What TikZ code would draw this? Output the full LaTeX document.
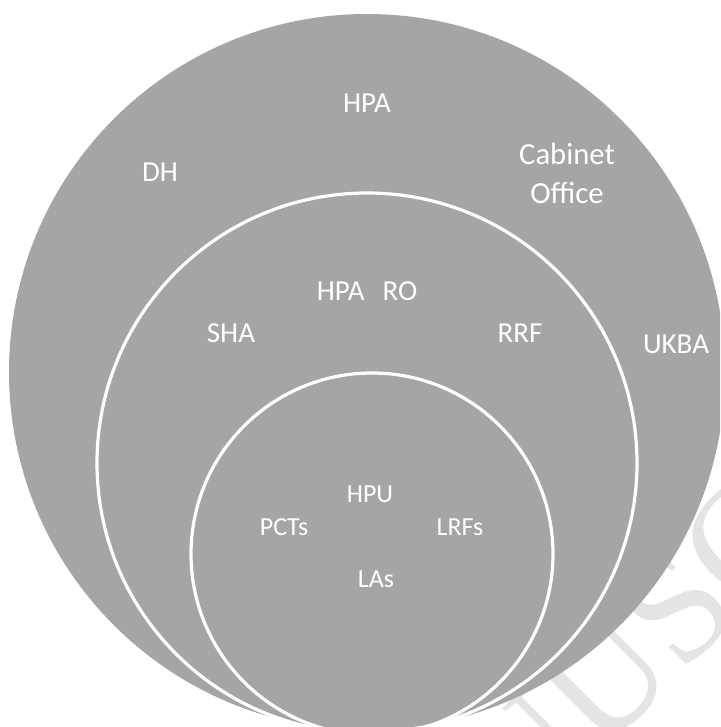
\documentclass[tikz,border=0pt]{standalone}
\usepackage{fontspec}
\setmainfont{Carlito}
\newfontfamily\wmfont{Liberation Serif}
\definecolor{discgrey}{RGB}{165,165,165}
\definecolor{wmgrey}{RGB}{228,228,228}
\tikzset{
  lbl/.style={text=white, inner sep=0pt, anchor=base, font=\fontsize{21.75}{26}\selectfont},
  biglbl/.style={lbl, font=\fontsize{23}{28}\selectfont},
  smalllbl/.style={lbl, font=\fontsize{19.5}{23}\selectfont},
  ring/.style={draw=white, line width=2.4pt}
}
\begin{document}
\begin{tikzpicture}[x=0.75pt,y=-0.75pt]
\useasboundingbox (0,0) rectangle (720,727);
\clip (0,0) rectangle (720,727);
% faint watermark behind the disc
\node[rotate=45, text=wmgrey, inner sep=0pt, font=\wmfont\fontsize{117}{117}\selectfont] (wm) at (664,620) {MANUSCRIPT};
% disc and rings
\fill[discgrey] (367,372) circle[radius=268.5pt];
\draw[ring] (367,463) circle[radius=202.5pt];
\draw[ring] (372,554) circle[radius=135.75pt];
% labels
\node[lbl] (hpa) at (367,113) {HPA};
\node[lbl] (dh) at (160,182) {DH};
\node[biglbl] (cab) at (567,165) {Cabinet};
\node[biglbl] (off) at (567,204) {Office};
\node[lbl] (hparo) at (367,300) {HPA\hspace{13.5pt}RO};
\node[lbl] (sha) at (231,342) {SHA};
\node[lbl] (rrf) at (520,342) {RRF};
\node[lbl] (ukba) at (676,353) {UKBA};
\node[smalllbl] (hpu) at (370,502) {HPU};
\node[smalllbl] (pcts) at (284,535) {PCTs};
\node[smalllbl] (lrfs) at (460,535) {LRFs};
\node[smalllbl] (las) at (376,587) {LAs};
\end{tikzpicture}
\end{document}
